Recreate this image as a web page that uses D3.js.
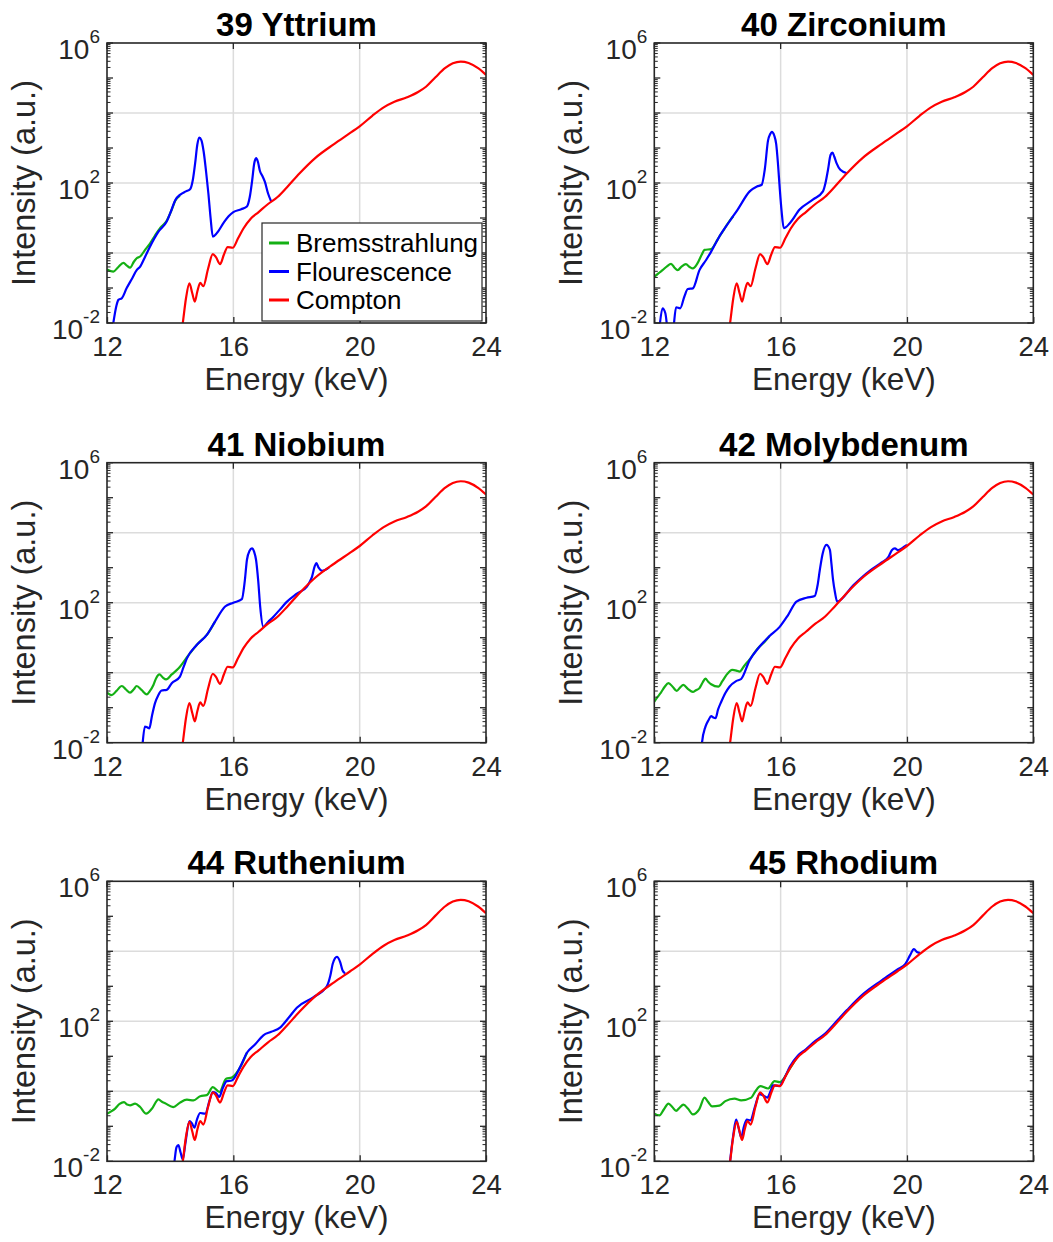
<!DOCTYPE html>
<html>
<head>
<meta charset="utf-8">
<script src="https://cdn.jsdelivr.net/npm/d3@7/dist/d3.min.js"></script>
<style>
  body { margin: 0; background: #fff; }
  text { font-family: "Liberation Sans", Arial, Helvetica, sans-serif; fill: #262626; }
</style>
</head>
<body>
<svg></svg>
<script>
const width = 1053;
const height = 1242;

// axes setup
const xDomain = [12, 24];
const xTicks = [12, 16, 20, 24];
const xGrid = [16, 20];
const yExpDomain = [-2, 6];
const yLabelExps = [-2, 2, 6];
const yGridExps = [0, 2, 4];

const seriesNames = ["Bremsstrahlung", "Flourescence", "Compton"];
const seriesColors = ["#14b014", "#0000ff", "#ff0000"];

// [energy keV, log10 intensity]
const compton = [[14.30,-2.6],[14.40,-2.0],[14.50,-1.3],[14.61,-0.87],[14.70,-1.15],[14.78,-1.39],[14.86,-1.1],[14.95,-0.85],[15.05,-0.95],[15.2,-0.45],[15.35,-0.03],[15.45,-0.12],[15.58,-0.32],[15.7,-0.05],[15.82,0.17],[15.98,0.15],[16.15,0.42],[16.32,0.7],[16.55,0.98],[16.8,1.17],[17.1,1.4],[17.4,1.6],[17.7,1.88],[18.1,2.28],[18.6,2.72],[19.2,3.12],[19.7,3.43],[20.0,3.62],[20.4,3.92],[20.76,4.16],[21.1,4.32],[21.5,4.45],[21.85,4.6],[22.1,4.75],[22.4,5.02],[22.7,5.28],[22.95,5.42],[23.2,5.47],[23.45,5.43],[23.75,5.28],[24.0,5.09]];

const brems39 = [[12.0,-0.47],[12.2,-0.53],[12.36,-0.4],[12.52,-0.28],[12.63,-0.36],[12.73,-0.42],[12.85,-0.25],[12.94,-0.15],[13.05,-0.1],[13.2,0.08],[13.36,0.27],[13.52,0.5],[13.68,0.71],[13.89,0.92],[14.05,1.24],[14.16,1.49],[14.31,1.64]];
const fluor39 = [[12.12,-2.5],[12.2,-2.0],[12.3,-1.5],[12.36,-1.34],[12.47,-1.29],[12.62,-1.01],[12.8,-0.72],[12.94,-0.49],[13.05,-0.39],[13.2,-0.12],[13.36,0.18],[13.63,0.61],[13.89,0.9],[14.05,1.25],[14.16,1.51],[14.31,1.66],[14.5,1.76],[14.63,1.82],[14.72,2.1],[14.79,2.56],[14.86,3.1],[14.92,3.3],[14.99,3.22],[15.06,2.9],[15.14,2.3],[15.21,1.7],[15.28,1.0],[15.35,0.47],[15.48,0.57],[15.69,0.86],[15.85,1.05],[16.0,1.17],[16.25,1.25],[16.43,1.33],[16.52,1.6],[16.6,2.1],[16.66,2.55],[16.72,2.71],[16.78,2.6],[16.84,2.35],[16.92,2.2],[17.0,2.03],[17.1,1.7],[17.2,1.47]];

const brems40 = [[12.0,-0.68],[12.13,-0.58],[12.26,-0.49],[12.4,-0.38],[12.53,-0.31],[12.64,-0.42],[12.74,-0.49],[12.87,-0.38],[13.0,-0.32],[13.12,-0.4],[13.22,-0.44],[13.37,-0.29],[13.5,-0.05],[13.59,0.09],[13.8,0.11],[13.95,0.3],[14.06,0.47],[14.2,0.66],[14.33,0.85],[14.5,1.05]];
const fluor40 = [[12.12,-2.6],[12.18,-2.0],[12.26,-1.58],[12.35,-1.72],[12.42,-2.2],[12.5,-2.6],[12.6,-2.2],[12.69,-1.55],[12.82,-1.58],[12.95,-1.25],[13.06,-1.03],[13.22,-1.01],[13.43,-0.49],[13.64,-0.2],[13.8,0.04],[14.06,0.47],[14.38,0.9],[14.64,1.24],[15.02,1.76],[15.25,1.9],[15.4,1.95],[15.5,2.4],[15.6,3.21],[15.67,3.4],[15.72,3.46],[15.8,3.35],[15.86,3.11],[15.92,2.5],[15.97,1.87],[16.03,1.2],[16.1,0.71],[16.29,0.85],[16.6,1.24],[17.03,1.53],[17.34,1.76],[17.42,2.0],[17.5,2.38],[17.58,2.8],[17.64,2.87],[17.7,2.75],[17.77,2.57],[17.89,2.38],[18.1,2.28]];

const brems41 = [[12.0,-0.57],[12.15,-0.64],[12.3,-0.52],[12.47,-0.38],[12.6,-0.48],[12.73,-0.57],[12.85,-0.47],[12.94,-0.38],[13.1,-0.5],[13.26,-0.62],[13.36,-0.52],[13.47,-0.35],[13.56,-0.15],[13.66,-0.05],[13.77,-0.14],[13.87,-0.19],[14.05,-0.05],[14.26,0.12],[14.58,0.5],[14.89,0.84],[15.16,1.08],[15.42,1.46]];
const fluor41 = [[13.08,-2.6],[13.13,-2.0],[13.2,-1.54],[13.27,-1.56],[13.34,-1.59],[13.42,-1.25],[13.52,-0.87],[13.62,-0.65],[13.73,-0.51],[13.89,-0.49],[14.05,-0.3],[14.31,-0.11],[14.42,0.15],[14.53,0.41],[14.84,0.79],[15.16,1.08],[15.42,1.46],[15.74,1.89],[16.0,2.0],[16.27,2.1],[16.36,2.6],[16.43,3.22],[16.51,3.48],[16.59,3.55],[16.66,3.45],[16.72,3.22],[16.79,2.6],[16.85,1.89],[16.95,1.31],[17.1,1.45],[17.27,1.6],[17.5,1.83],[17.7,2.03],[18.0,2.25],[18.33,2.46],[18.42,2.6],[18.49,2.74],[18.58,3.05],[18.63,3.13],[18.7,3.0],[18.81,2.91],[19.03,3.01]];

const brems42 = [[12.0,-0.83],[12.1,-0.7],[12.21,-0.57],[12.33,-0.4],[12.45,-0.3],[12.58,-0.4],[12.71,-0.52],[12.82,-0.42],[12.92,-0.35],[13.07,-0.47],[13.22,-0.55],[13.32,-0.5],[13.43,-0.44],[13.53,-0.28],[13.62,-0.17],[13.7,-0.25],[13.8,-0.33],[14.03,-0.4],[14.15,-0.25],[14.28,-0.07],[14.47,0.08],[14.6,0.06],[14.7,0.03],[14.85,0.2],[15.02,0.38],[15.28,0.7],[15.49,0.88],[15.65,1.05]];
const fluor42 = [[13.46,-2.6],[13.51,-2.0],[13.62,-1.54],[13.72,-1.35],[13.8,-1.24],[13.87,-1.28],[13.94,-1.3],[14.02,-1.05],[14.12,-0.83],[14.25,-0.58],[14.38,-0.4],[14.59,-0.24],[14.75,-0.18],[15.02,0.36],[15.33,0.74],[15.65,1.05],[15.97,1.31],[16.23,1.64],[16.5,2.03],[16.82,2.14],[17.08,2.19],[17.17,2.5],[17.24,2.93],[17.33,3.4],[17.45,3.65],[17.56,3.51],[17.61,3.1],[17.66,2.65],[17.72,2.3],[17.79,2.03],[18.3,2.5],[18.83,2.92],[19.2,3.15],[19.41,3.3],[19.52,3.5],[19.62,3.55],[19.72,3.5],[19.85,3.56],[20.0,3.65]];

const brems44 = [[12.0,-0.64],[12.12,-0.58],[12.25,-0.5],[12.4,-0.36],[12.54,-0.31],[12.64,-0.38],[12.73,-0.4],[12.89,-0.35],[13.05,-0.45],[13.24,-0.64],[13.42,-0.5],[13.63,-0.23],[13.74,-0.3],[13.84,-0.34],[14.1,-0.45],[14.3,-0.33],[14.53,-0.24],[14.74,-0.26],[14.95,-0.14],[15.16,-0.11],[15.35,0.12],[15.56,-0.02],[15.77,0.36],[15.95,0.39],[16.22,0.69],[16.43,1.1]];
const fluor44 = [[14.09,-2.4],[14.15,-1.9],[14.2,-1.6],[14.26,-1.54],[14.33,-1.75],[14.4,-1.95],[14.48,-1.5],[14.61,-0.85],[14.69,-0.92],[14.77,-1.04],[14.85,-0.8],[14.95,-0.62],[15.11,-0.64],[15.25,-0.25],[15.35,-0.02],[15.45,-0.05],[15.55,-0.16],[15.67,0.1],[15.79,0.29],[15.95,0.31],[16.22,0.7],[16.43,1.1],[16.7,1.35],[16.95,1.6],[17.2,1.7],[17.48,1.82],[17.75,2.1],[18.01,2.39],[18.54,2.69],[18.96,3.0],[19.07,3.3],[19.15,3.65],[19.28,3.84],[19.38,3.7],[19.46,3.45],[19.54,3.37]];

const brems45 = [[12.0,-0.64],[12.16,-0.69],[12.3,-0.52],[12.45,-0.35],[12.57,-0.45],[12.69,-0.56],[12.8,-0.47],[12.92,-0.38],[13.07,-0.5],[13.22,-0.66],[13.43,-0.5],[13.59,-0.18],[13.7,-0.3],[13.83,-0.43],[14.06,-0.41],[14.25,-0.28],[14.54,-0.21],[14.75,-0.26],[15.07,-0.18],[15.2,0.0],[15.36,0.15],[15.6,0.08],[15.81,0.29],[15.97,0.26],[16.29,0.65],[16.5,0.95]];
const fluor45 = [[14.36,-2.4],[14.4,-2.0],[14.5,-1.25],[14.59,-0.81],[14.67,-1.05],[14.75,-1.31],[14.84,-1.0],[14.93,-0.81],[15.04,-0.83],[15.2,-0.4],[15.33,-0.08],[15.45,-0.12],[15.58,-0.18],[15.68,0.0],[15.76,0.17],[15.95,0.15],[16.12,0.38],[16.29,0.7],[16.55,1.02],[16.8,1.2],[17.1,1.44],[17.4,1.64],[17.7,1.93],[18.1,2.32],[18.6,2.77],[19.2,3.17],[19.7,3.48],[19.95,3.64],[20.1,3.89],[20.22,4.06],[20.33,3.97],[20.42,3.95]];

const titles = ["39 Yttrium", "40 Zirconium", "41 Niobium", "42 Molybdenum", "44 Ruthenium", "45 Rhodium"];
const bremsData = [brems39, brems40, brems41, brems42, brems44, brems45];
const fluorData = [fluor39, fluor40, fluor41, fluor42, fluor44, fluor45];

// layout
const colLeft = [107, 654.3];
const rowTop = [43, 462.7, 881.3];
const pw = 379, ph = 280;

const svg = d3.select("svg")
  .attr("width", width)
  .attr("height", height);

titles.forEach((title, i) => {
  const left = colLeft[i % 2];
  const top = rowTop[Math.floor(i / 2)];

  const x = d3.scaleLinear().domain(xDomain).range([0, pw]);
  const y = d3.scaleLog().domain(yExpDomain.map(e => 10 ** e)).range([ph, 0]);

  const g = svg.append("g").attr("transform", `translate(${left},${top})`);

  g.append("clipPath").attr("id", "clip" + i)
    .append("rect").attr("width", pw).attr("height", ph);

  // grid
  g.selectAll(".gx").data(xGrid).join("line")
    .attr("x1", d => x(d)).attr("x2", d => x(d))
    .attr("y1", 0).attr("y2", ph)
    .attr("stroke", "#dcdcdc").attr("stroke-width", 1.5);
  g.selectAll(".gy").data(yGridExps).join("line")
    .attr("x1", 0).attr("x2", pw)
    .attr("y1", d => y(10 ** d)).attr("y2", d => y(10 ** d))
    .attr("stroke", "#dcdcdc").attr("stroke-width", 1.5);

  // curves
  const line = d3.line()
    .x(d => x(d[0]))
    .y(d => y(10 ** d[1]))
    .curve(d3.curveMonotoneX);

  const curves = g.append("g").attr("clip-path", `url(#clip${i})`);
  [bremsData[i], fluorData[i], compton].forEach((s, k) => {
    curves.append("path")
      .datum(s)
      .attr("d", line)
      .attr("fill", "none")
      .attr("stroke", seriesColors[k])
      .attr("stroke-width", 2.2)
      .attr("stroke-linejoin", "round");
  });

  // box
  g.append("rect")
    .attr("width", pw).attr("height", ph)
    .attr("fill", "none")
    .attr("stroke", "#262626")
    .attr("stroke-width", 1.6);

  // x axis (ticks inside)
  const xAxis = d3.axisBottom(x).tickValues(xTicks).tickSizeInner(-6).tickSizeOuter(0).tickPadding(13.5);
  const xa = g.append("g").attr("transform", `translate(0,${ph})`).call(xAxis);
  xa.select(".domain").remove();
  xa.selectAll(".tick line").attr("stroke", "#262626").attr("stroke-width", 1.3);
  xa.selectAll(".tick text").style("font-size", "27.5px").attr("fill", "#262626");

  g.selectAll(".xt-top").data(xTicks).join("line")
    .attr("x1", d => x(d)).attr("x2", d => x(d))
    .attr("y1", 0).attr("y2", 6)
    .attr("stroke", "#262626").attr("stroke-width", 1.3);

  // y ticks: major per decade, minor 2..9
  const yMajor = d3.range(yExpDomain[0], yExpDomain[1] + 1);
  const yMinor = [];
  yMajor.slice(0, -1).forEach(e => d3.range(2, 10).forEach(m => yMinor.push(m * 10 ** e)));
  [[0, 1], [pw, -1]].forEach(([x0, dir]) => {
    g.append("g").selectAll("line").data(yMajor).join("line")
      .attr("x1", x0).attr("x2", x0 + dir * 6)
      .attr("y1", d => y(10 ** d)).attr("y2", d => y(10 ** d))
      .attr("stroke", "#262626").attr("stroke-width", 1.3);
    g.append("g").selectAll("line").data(yMinor).join("line")
      .attr("x1", x0).attr("x2", x0 + dir * 3.5)
      .attr("y1", d => y(d)).attr("y2", d => y(d))
      .attr("stroke", "#262626").attr("stroke-width", 1);
  });

  // y tick labels 10^n
  const yl = g.selectAll(".ylab").data(yLabelExps).join("text")
    .attr("x", -7)
    .attr("y", d => y(10 ** d) + 16)
    .attr("text-anchor", "end")
    .style("font-size", "28px");
  yl.append("tspan").text("10");
  yl.append("tspan").attr("dy", -16).style("font-size", "19px").text(d => d);

  // title
  g.append("text")
    .attr("x", pw / 2).attr("y", -7)
    .attr("text-anchor", "middle")
    .style("font-size", "33px")
    .style("font-weight", "bold")
    .style("fill", "#000")
    .text(title);

  // axis labels
  g.append("text")
    .attr("x", pw / 2).attr("y", ph + 67)
    .attr("text-anchor", "middle")
    .style("font-size", "31.5px")
    .text("Energy (keV)");

  g.append("text")
    .attr("transform", `translate(-72,${ph / 2}) rotate(-90)`)
    .attr("text-anchor", "middle")
    .style("font-size", "32.5px")
    .text("Intensity (a.u.)");

  // legend in first panel
  if (i === 0) {
    const lg = g.append("g").attr("transform", `translate(${pw - 224},${ph - 100})`);
    lg.append("rect")
      .attr("width", 220).attr("height", 98)
      .attr("fill", "#fff")
      .attr("stroke", "#262626")
      .attr("stroke-width", 1.2);
    seriesNames.forEach((name, k) => {
      const cy = 20 + k * 28.5;
      lg.append("line")
        .attr("x1", 7).attr("x2", 27)
        .attr("y1", cy).attr("y2", cy)
        .attr("stroke", seriesColors[k]).attr("stroke-width", 3);
      lg.append("text")
        .attr("x", 34).attr("y", cy + 9)
        .style("font-size", "26px")
        .style("fill", "#000")
        .text(name);
    });
  }
});
</script>
</body>
</html>
